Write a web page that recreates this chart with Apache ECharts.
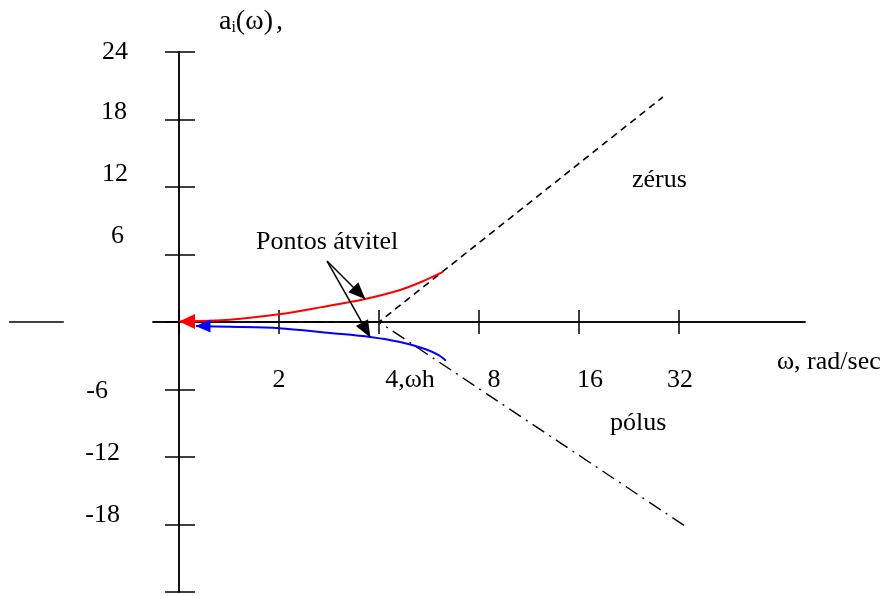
<!DOCTYPE html>
<html>
<head>
<meta charset="utf-8">
<script src="https://cdn.jsdelivr.net/npm/echarts@6/dist/echarts.min.js"></script>
<style>
  html, body { margin: 0; padding: 0; background: #fff; }
  #chart { width: 888px; height: 596px; }
</style>
</head>
<body>
<div id="chart"></div>
<script>
// Frequency axis (rad/sec, octave spacing)
const xTicks = [1, 2, 4, 8, 16, 32];
const xLabelValues = [2, 4, 8, 16, 32];
const xLabelTexts = ['2', '4,ωh', '8', '16', '32'];

// Amplitude axis
const yLabelValues = [24, 18, 12, 6, -6, -12, -18];
const yLabelTexts = ['24', '18', '12', '6', '-6', '-12', '-18'];

// Exact response of the zero term (red)
const zeroOmega = [1.0, 1.42, 2.0, 2.66, 3.63, 4.63, 5.4, 6.23];
const zeroGain = [0.05, 0.2, 0.68, 1.3, 2.05, 2.85, 3.6, 4.45];

// Exact response of the pole term (blue)
const poleOmega = [1.125, 1.42, 2.0, 2.85, 3.76, 4.63, 5.5, 6.05, 6.36];
const poleGain = [-0.36, -0.42, -0.55, -0.98, -1.33, -1.78, -2.4, -2.95, -3.45];

// Straight-line asymptotes, breaking at ωh = 4
const zeroAsymOmega = [1.7, 4, 28.6];
const zeroAsymGain = [0, 0, 20];
const poleAsymOmega = [1.7, 4, 33.6];
const poleAsymGain = [0, 0, -18.2];

// Short stub of the horizontal axis left of the frame
const stubOmega = [0.308, 0.45];
const stubGain = [0, 0];

// Where the "Pontos átvitel" callout arrows start, and which curve points they hit
const calloutOmega = 2.79;
const calloutGain = 5.42;
const zeroCalloutIndex = 4;
const poleCalloutIndex = 4;

const FONT = '"Liberation Serif", "Times New Roman", serif';
const FS = 26;
const black = '#000';

const zip = (xs, ys) => xs.map((x, i) => [x, ys[i]]);

// per-label nudges of the hand placed y tick texts: [dy, rightPad]
const yNudge = [[0, 0], [-7, 1], [-13, 0], [-18, 4], [2, 20], [-4, 8], [-9, 8]];
const yRich = {};
yNudge.forEach((n, i) => {
  const dy = n[0];
  yRich['y' + i] = { padding: [dy > 0 ? 2 * dy : 0, n[1], dy < 0 ? -2 * dy : 0, 0] };
});
// horizontal offsets of the frequency labels below their ticks
const xLabelDx = [0, 31, 15, 11, 1];

function findIndex(list, v) {
  for (let i = 0; i < list.length; i++) {
    if (Math.abs(list[i] - v) < 1e-6 * Math.max(1, Math.abs(v))) return i;
  }
  return -1;
}

const axisLineStyle = { color: black, width: 1.5 };

const xBase = {
  type: 'log',
  logBase: 2,
  min: 0.835,
  max: 76.6,
  position: 'bottom',
  splitLine: { show: false },
  minorTick: { show: false },
  axisLabel: { show: false },
  axisLine: { show: true, onZero: true, onZeroAxisIndex: 0, lineStyle: axisLineStyle }
};

const yBase = {
  type: 'value',
  min: -24,
  max: 24,
  interval: 6,
  position: 'left',
  offset: -26,
  splitLine: { show: false },
  axisLine: { show: true, onZero: false, lineStyle: axisLineStyle }
};

const option = {
  animation: false,
  backgroundColor: '#fff',
  grid: { left: 153, right: 83, top: 52, bottom: 4, containLabel: false, outerBoundsMode: 'none' },
  xAxis: [
    Object.assign({}, xBase, {
      axisTick: { show: true, inside: false, length: 12, customValues: xTicks, lineStyle: axisLineStyle }
    }),
    Object.assign({}, xBase, {
      axisTick: { show: true, inside: true, length: 12, customValues: xTicks, lineStyle: axisLineStyle }
    })
  ],
  yAxis: [
    Object.assign({}, yBase, {
      axisTick: { show: true, inside: false, length: 14, lineStyle: axisLineStyle },
      axisLabel: {
        show: true,
        margin: 51,
        align: 'right',
        color: black,
        fontFamily: FONT,
        fontSize: FS,
        rich: yRich,
        formatter: (v) => {
          const i = findIndex(yLabelValues, v);
          return i < 0 ? '' : '{y' + i + '|' + yLabelTexts[i] + '}';
        }
      }
    }),
    Object.assign({}, yBase, {
      axisTick: { show: true, inside: true, length: 16, lineStyle: axisLineStyle },
      axisLabel: { show: false }
    })
  ],
  series: [
    {
      name: 'zérus',
      type: 'line',
      data: zip(zeroAsymOmega, zeroAsymGain),
      symbol: 'none',
      silent: true,
      lineStyle: { color: black, width: 1.6, type: [7, 5] }
    },
    {
      name: 'pólus',
      type: 'line',
      data: zip(poleAsymOmega, poleAsymGain),
      symbol: 'none',
      silent: true,
      lineStyle: { color: black, width: 1.4, type: [14, 6, 2, 6] }
    },
    {
      name: 'zero exact',
      type: 'line',
      smooth: 0.3,
      symbol: 'none',
      silent: true,
      lineStyle: { color: '#ff0000', width: 2 },
      data: zip(zeroOmega, zeroGain).map((p, i) => i === 0
        ? { value: p, symbol: 'triangle', symbolSize: [15, 16], symbolRotate: 90, symbolOffset: [8, 0], itemStyle: { color: '#ff0000' } }
        : { value: p }),
      markLine: {
        silent: true,
        animation: false,
        label: { show: false },
        lineStyle: { color: black, width: 1.5, type: 'solid' },
        emphasis: { disabled: true },
        data: [
          [
            { coord: [calloutOmega, calloutGain], symbol: 'none' },
            { coord: [zeroOmega[zeroCalloutIndex], zeroGain[zeroCalloutIndex]], symbol: 'triangle', symbolSize: [14, 17], symbolOffset: [0, 8] }
          ],
          [
            { coord: [calloutOmega, calloutGain], symbol: 'none' },
            { coord: [poleOmega[poleCalloutIndex], poleGain[poleCalloutIndex]], symbol: 'triangle', symbolSize: [14, 17], symbolOffset: [0, 8] }
          ]
        ]
      }
    },
    {
      name: 'pole exact',
      type: 'line',
      smooth: 0.3,
      symbol: 'none',
      silent: true,
      lineStyle: { color: '#0000ff', width: 2 },
      data: zip(poleOmega, poleGain).map((p, i) => i === 0
        ? { value: p, symbol: 'triangle', symbolSize: [13, 15], symbolRotate: 90, symbolOffset: [7, 0], itemStyle: { color: '#0000ff' } }
        : { value: p })
    },
    {
      // frequency tick labels, anchored to their tick values on the axis
      name: 'frequency labels',
      type: 'scatter',
      silent: true,
      symbolSize: 2,
      itemStyle: { color: 'rgba(0,0,0,0)' },
      clip: false,
      data: xLabelValues.map((v, i) => ({
        value: [v, 0],
        label: {
          show: true,
          position: 'inside',
          offset: [xLabelDx[i], 58],
          formatter: xLabelTexts[i],
          color: black,
          opacity: 1,
          fontFamily: FONT,
          fontSize: FS
        }
      }))
    }
  ],
  graphic: [
    {
      type: 'text', x: 219, y: 22, silent: true,
      style: {
        text: '{n|a}{s|i}{n|(ω)}{c|,}',
        verticalAlign: 'middle',
        rich: {
          n: { fontFamily: FONT, fontSize: 28, fill: black },
          c: { fontFamily: FONT, fontSize: 28, fill: black, padding: [0, 0, 0, 3] },
          s: { fontFamily: FONT, fontSize: 16, fill: black, verticalAlign: 'bottom' }
        }
      }
    },
    { type: 'text', x: 256, y: 242, silent: true, style: { text: 'Pontos átvitel', font: FS + 'px ' + FONT, fill: black, verticalAlign: 'middle' } },
    { type: 'text', x: 632, y: 180, silent: true, style: { text: 'zérus', font: FS + 'px ' + FONT, fill: black, verticalAlign: 'middle' } },
    { type: 'text', x: 610, y: 423, silent: true, style: { text: 'pólus', font: FS + 'px ' + FONT, fill: black, verticalAlign: 'middle' } },
    { type: 'text', x: 777, y: 362, silent: true, style: { text: 'ω, rad/sec', font: FS + 'px ' + FONT, fill: black, verticalAlign: 'middle' } }
  ]
};

const chart = echarts.init(document.getElementById('chart'), null, { renderer: 'canvas' });
chart.setOption(option);

// stub of the horizontal axis drawn left of the frame, placed through the axis scales
const stubPts = zip(stubOmega, stubGain).map((p) => chart.convertToPixel({ xAxisIndex: 0, yAxisIndex: 0 }, p));
chart.setOption({
  graphic: option.graphic.concat([{
    type: 'line', silent: true,
    shape: { x1: stubPts[0][0], y1: stubPts[0][1], x2: stubPts[1][0], y2: stubPts[1][1] },
    style: { stroke: black, lineWidth: 1.5 }
  }])
});
</script>
</body>
</html>
